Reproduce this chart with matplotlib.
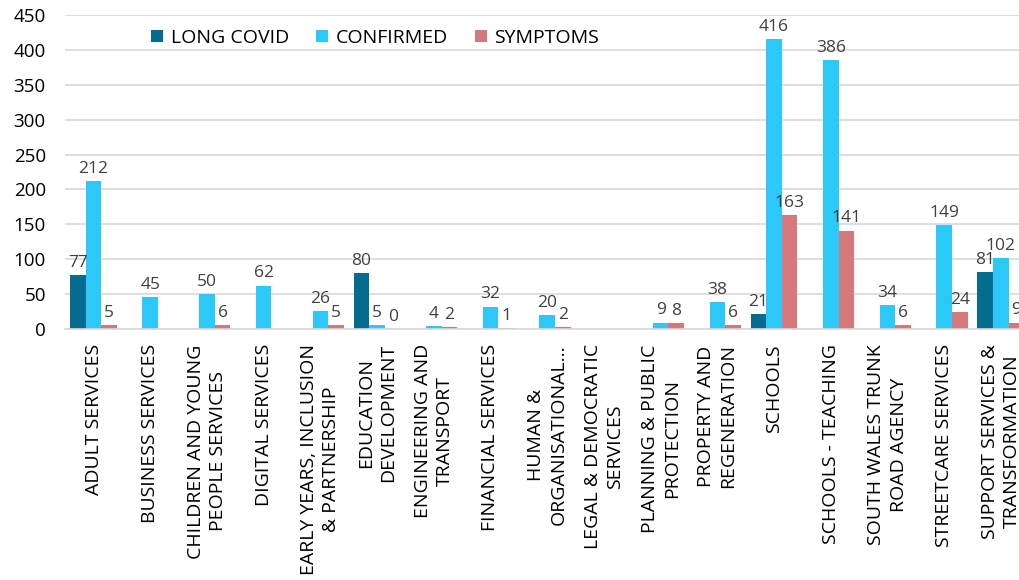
import numpy as np
import matplotlib.pyplot as plt

# Datos del gráfico
categories = [
    "ADULT SERVICES", "BUSINESS SERVICES", "CHILDREN AND YOUNG\nPEOPLE SERVICES",
    "DIGITAL SERVICES", "EARLY YEARS, INCLUSION\n& PARTNERSHIP", "EDUCATION\nDEVELOPMENT",
    "ENGINEERING AND\nTRANSPORT", "FINANCIAL SERVICES", "HUMAN &\nORGANISATIONAL...",
    "LEGAL & DEMOCRATIC\nSERVICES", "PLANNING & PUBLIC\nPROTECTION", "PROPERTY AND\nREGENERATION",
    "SCHOOLS", "SCHOOLS - TEACHING", "SOUTH WALES TRUNK\nROAD AGENCY",
    "STREETCARE SERVICES", "SUPPORT SERVICES &\nTRANSFORMATION",
]
nan = np.nan
long_covid = [77, nan, nan, nan, nan, 80, nan, nan, nan, nan, nan, nan, 21, nan, nan, nan, 81]
confirmed = [212, 45, 50, 62, 26, 5, 4, 32, 20, nan, 9, 38, 416, 386, 34, 149, 102]
symptoms = [5, nan, 6, nan, 5, 0, 2, 1, 2, nan, 8, 6, 163, 141, 6, 24, 9]

series = [("LONG COVID", long_covid, "#046C8F"),
          ("CONFIRMED", confirmed, "#2CC8F8"),
          ("SYMPTOMS", symptoms, "#D4787B")]

plt.rcParams['font.family'] = ['Open Sans', 'DejaVu Sans']

fig = plt.figure(figsize=(10.19, 5.8), dpi=100)
ax = fig.add_axes([0.064, 0.433, 0.946, 0.541])

x = np.arange(len(categories))
w = 0.275
for i, (name, vals, col) in enumerate(series):
    vals = np.array(vals, dtype=float)
    bars = ax.bar(x + (i - 1) * w, np.nan_to_num(vals), w, color=col, label=name)
    labels = ["" if np.isnan(v) else f"{int(v)}" for v in vals]
    ax.bar_label(bars, labels=labels, padding=3, fontsize=12.5, color="#404040")

ax.set_xlim(-0.5, len(categories) - 0.5)
ax.set_ylim(0, 450)
ax.set_yticks(np.arange(0, 451, 50))
ax.yaxis.grid(True, color="#D9D9D9", linewidth=1.2)
ax.set_axisbelow(True)
for s in ["top", "right", "left"]:
    ax.spines[s].set_visible(False)
ax.spines["bottom"].set_color("#D9D9D9")
ax.spines["bottom"].set_linewidth(1.2)

ax.set_xticks(x)
ax.set_xticklabels(categories, rotation=90, fontsize=14, ha="center", va="top",
                   multialignment="center", linespacing=1.3)
ax.tick_params(axis="x", length=0, pad=11)
ax.tick_params(axis="y", length=0, pad=14, labelsize=13.5)

ax.legend(loc="upper left", bbox_to_anchor=(0.075, 1.0), ncol=3, frameon=False,
          fontsize=14, handlelength=0.6, handleheight=0.6, handletextpad=0.4,
          columnspacing=1.4, borderaxespad=0.3)

fig.savefig("out.png", dpi=100)
